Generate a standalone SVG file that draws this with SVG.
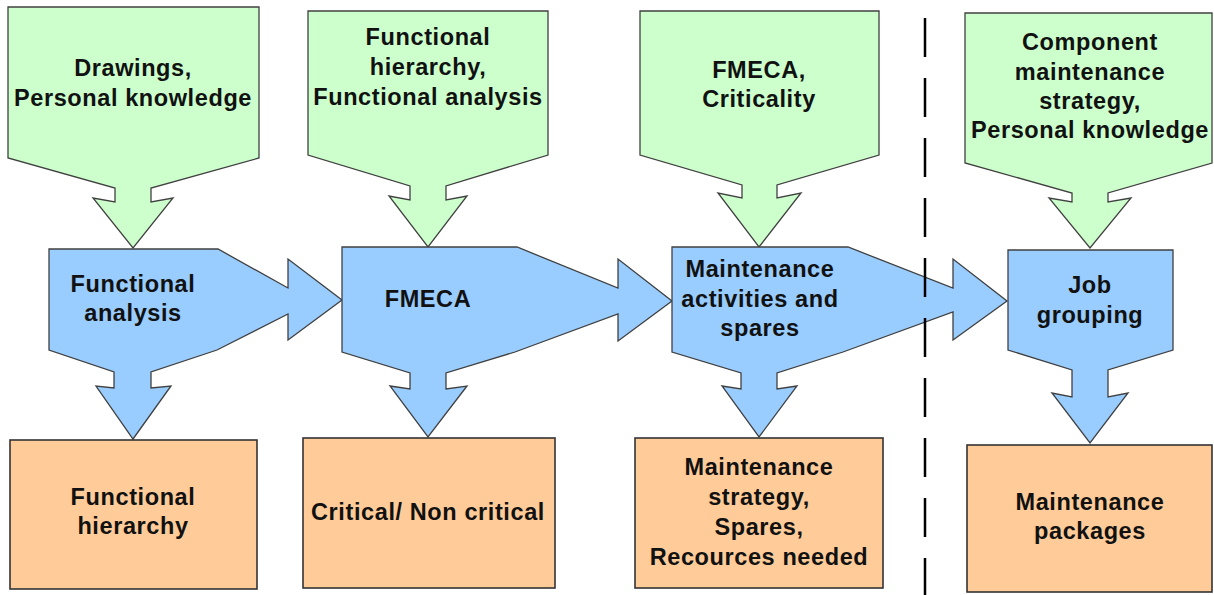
<svg xmlns="http://www.w3.org/2000/svg" width="1214" height="595" viewBox="0 0 1214 595">
<style>
  .in{fill:#ccffcc;stroke:#404040;stroke-width:1.3;stroke-linejoin:miter}
  .proc{fill:#99ccff;stroke:#404040;stroke-width:1.3;stroke-linejoin:miter}
  .out{fill:#ffcc99;stroke:#333333;stroke-width:1.6}
  .t{font-family:"Liberation Sans",Arial,sans-serif;font-weight:bold;font-size:23.5px;letter-spacing:0.6px;fill:#111111;text-anchor:middle}
  .sep{stroke:#000000;stroke-width:2.5;stroke-dasharray:39 21;fill:none}
</style>
<rect x="0" y="0" width="1214" height="595" fill="#ffffff"/>

<g id="input-drawings">
  <path class="in" d="M8,7 H259 V158 L151,188 V202 L173,198 L133,248 L93,198 L115,202 V188 L8,158 Z"/>
  <text class="t" x="133" y="76">Drawings,</text>
  <text class="t" x="133" y="106">Personal knowledge</text>
</g>
<g id="input-functional">
  <path class="in" d="M308,11 H548 V155 L446,186 V200 L467,196 L428,247 L389,196 L410,200 V186 L308,155 Z"/>
  <text class="t" x="428" y="45">Functional</text>
  <text class="t" x="428" y="75">hierarchy,</text>
  <text class="t" x="428" y="105">Functional analysis</text>
</g>
<g id="input-fmeca">
  <path class="in" d="M640,11 H879 V155 L777,185 V198 L801,193 L759,247 L718,193 L742,198 V185 L640,155 Z"/>
  <text class="t" x="759" y="78">FMECA,</text>
  <text class="t" x="759" y="107">Criticality</text>
</g>
<g id="input-component">
  <path class="in" d="M965,13 H1212 V163 L1108,193 V202 L1131,198 L1090,248 L1049,198 L1072,202 V193 L965,163 Z"/>
  <text class="t" x="1090" y="50">Component</text>
  <text class="t" x="1090" y="80">maintenance</text>
  <text class="t" x="1090" y="109">strategy,</text>
  <text class="t" x="1090" y="138">Personal knowledge</text>
</g>

<g id="proc-functional-analysis">
  <path class="proc" d="M49,249 H218 L288,288 V259 L342,300 L288,340 V314 L217,350 L151,372 V388 L171,386 L133,439 L96,386 L114,388 V372 L49,350 Z"/>
  <text class="t" x="133" y="292">Functional</text>
  <text class="t" x="133" y="321">analysis</text>
</g>
<g id="proc-fmeca">
  <path class="proc" d="M342,247 H517 L618,288 V259 L672,301 L618,341 V314 L515,352 L446,373 V389 L467,386 L428,437 L390,386 L410,389 V373 L342,352 Z"/>
  <text class="t" x="428" y="307">FMECA</text>
</g>
<g id="proc-maintenance">
  <path class="proc" d="M672,247 H848 L953,288 V259 L1007,301 L953,340 V312 L843,352 L777,373 V389 L797,386 L759,437 L722,386 L741,389 V373 L672,352 Z"/>
  <text class="t" x="760" y="277">Maintenance</text>
  <text class="t" x="760" y="307">activities and</text>
  <text class="t" x="760" y="336">spares</text>
</g>
<g id="proc-job-grouping">
  <path class="proc" d="M1008,250 H1173 V350 L1108,370 V397 L1128,393 L1090,443 L1052,393 L1072,397 V370 L1008,350 Z"/>
  <text class="t" x="1090" y="293">Job</text>
  <text class="t" x="1090" y="323">grouping</text>
</g>

<g id="out-functional-hierarchy">
  <rect class="out" x="10" y="440" width="247" height="149"/>
  <text class="t" x="133" y="505">Functional</text>
  <text class="t" x="133" y="534">hierarchy</text>
</g>
<g id="out-critical">
  <rect class="out" x="303" y="438" width="252" height="150"/>
  <text class="t" x="428" y="520">Critical/ Non critical</text>
</g>
<g id="out-strategy">
  <rect class="out" x="635" y="438" width="248" height="150"/>
  <text class="t" x="759" y="475">Maintenance</text>
  <text class="t" x="759" y="505">strategy,</text>
  <text class="t" x="759" y="535">Spares,</text>
  <text class="t" x="759" y="565">Recources needed</text>
</g>
<g id="out-packages">
  <rect class="out" x="967" y="445" width="245" height="147"/>
  <text class="t" x="1090" y="510">Maintenance</text>
  <text class="t" x="1090" y="539">packages</text>
</g>

<g id="connectors">
  <line class="sep" x1="925" y1="18" x2="925" y2="595"/>
</g>
</svg>
